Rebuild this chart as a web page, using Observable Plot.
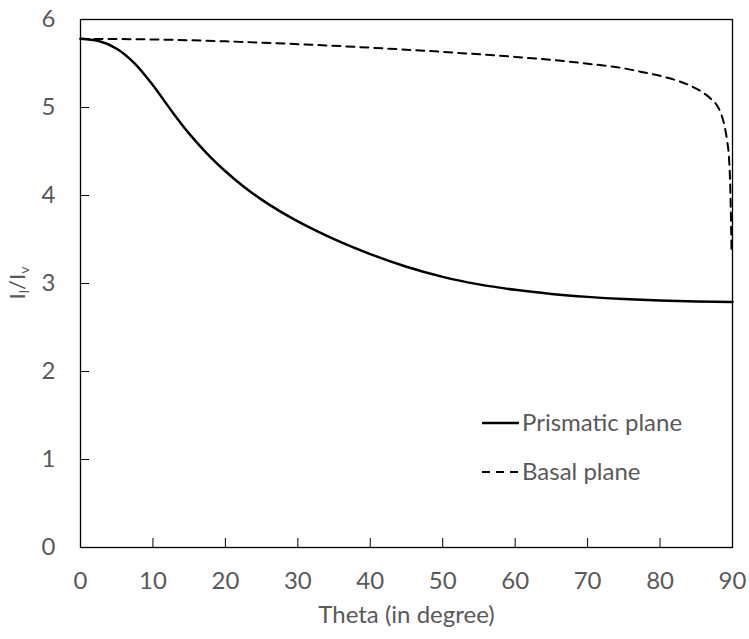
<!DOCTYPE html>
<html>
<head>
<meta charset="utf-8">
<script src="https://cdn.jsdelivr.net/npm/d3@7"></script>
<script src="https://cdn.jsdelivr.net/npm/@observablehq/plot@0.6"></script>
<style>
  html, body { margin: 0; padding: 0; background: #fff; }
  #chart svg { display: block; }
</style>
</head>
<body>
<div id="chart"></div>
<script>
// Prismatic plane (solid)
const prismTheta = [0, 2.5, 5, 7.5, 10, 12.5, 15, 17.5, 20, 22.5, 25, 27.5, 30, 32.5, 35, 37.5, 40, 45, 50, 55, 60, 65, 70, 75, 80, 85, 90];
const prismRatio = [5.780, 5.755, 5.668, 5.499, 5.253, 4.969, 4.703, 4.474, 4.275, 4.103, 3.953, 3.822, 3.706, 3.601, 3.505, 3.416, 3.334, 3.190, 3.075, 2.990, 2.928, 2.882, 2.848, 2.823, 2.806, 2.796, 2.790];
// Basal plane (dashed)
const basalTheta = [0, 10, 20, 30, 40, 50, 60, 65, 70, 75, 78, 80, 82, 84, 85, 86, 87, 88, 88.5, 89, 89.3, 89.5, 89.65, 89.75, 89.82, 89.87];
const basalRatio = [5.780, 5.773, 5.752, 5.720, 5.680, 5.632, 5.575, 5.541, 5.498, 5.445, 5.395, 5.360, 5.315, 5.255, 5.215, 5.165, 5.100, 5.005, 4.910, 4.750, 4.600, 4.450, 4.200, 3.900, 3.600, 3.350];

const xTicks = [0, 10, 20, 30, 40, 50, 60, 70, 80, 90];
const yTicks = [0, 1, 2, 3, 4, 5, 6];
const seriesNames = ["Prismatic plane", "Basal plane"];
const xTitle = "Theta (in degree)";

const prism = prismTheta.map((t, i) => ({theta: t, ratio: prismRatio[i]}));
const basal = basalTheta.map((t, i) => ({theta: t, ratio: basalRatio[i]}));

const FONT = "Lato, 'Open Sans', sans-serif";
const GRAY = "#595959";

const chart = Plot.plot({
  width: 749,
  height: 639,
  marginLeft: 80,
  marginRight: 17,
  marginTop: 19,
  marginBottom: 92,
  style: {fontFamily: FONT, fontSize: "24px", color: GRAY, background: "#fff"},
  x: {domain: [0, 90]},
  y: {domain: [0, 6]},
  marks: [
    // inward ticks
    Plot.axisX(xTicks, {tickSize: 9, dy: -9, text: null, stroke: "#000", strokeOpacity: 1, label: null}),
    Plot.axisY(yTicks, {tickSize: 9, dx: 9, text: null, stroke: "#000", strokeOpacity: 1, label: null}),
    // tick labels
    Plot.axisX(xTicks, {tickSize: 0, tickPadding: 24, fill: GRAY, fontSize: 24, label: null, tickFormat: d => String(d)}),
    Plot.axisY(yTicks, {tickSize: 0, tickPadding: 25, fill: GRAY, fontSize: 24, label: null, tickFormat: d => String(d)}),
    Plot.text([xTitle], {frameAnchor: "bottom", dy: 68, fill: GRAY, fontSize: 24, lineAnchor: "middle"}),
    Plot.line(basal, {x: "theta", y: "ratio", stroke: "#000", strokeWidth: 2, strokeDasharray: "8,6", curve: "monotone-x"}),
    Plot.line(prism, {x: "theta", y: "ratio", stroke: "#000", strokeWidth: 2.5, curve: "monotone-x"}),
    Plot.frame({stroke: "#000", strokeWidth: 1.3})
  ]
});
document.getElementById("chart").appendChild(chart);

// y-axis title with subscripts, and legend
const svg = d3.select(chart);
const yt = svg.append("text")
  .attr("text-anchor", "start")
  .attr("fill", GRAY)
  .attr("font-family", FONT)
  .attr("font-size", 22);
yt.append("tspan").text("I");
yt.append("tspan").attr("font-size", 14).attr("dy", 4).text("l");
yt.append("tspan").attr("dy", -4).text("/I");
yt.append("tspan").attr("font-size", 14).attr("dy", 4).text("v");
const len = yt.node().getComputedTextLength();
yt.attr("transform", `translate(25,${283 + len / 2}) rotate(-90)`);

const leg = svg.append("g").attr("font-family", FONT).attr("font-size", 24).attr("fill", GRAY);
const legRows = [
  {name: seriesNames[0], y: 423, dash: null, w: 2.5},
  {name: seriesNames[1], y: 472, dash: "8,6", w: 2}
];
legRows.forEach(r => {
  leg.append("line").attr("x1", 482).attr("x2", 519).attr("y1", r.y).attr("y2", r.y)
    .attr("stroke", "#000").attr("stroke-width", r.w).attr("stroke-dasharray", r.dash);
  leg.append("text").attr("x", 522).attr("y", r.y).attr("dy", "0.35em")
    .attr("text-anchor", "start").text(r.name);
});
</script>
</body>
</html>
